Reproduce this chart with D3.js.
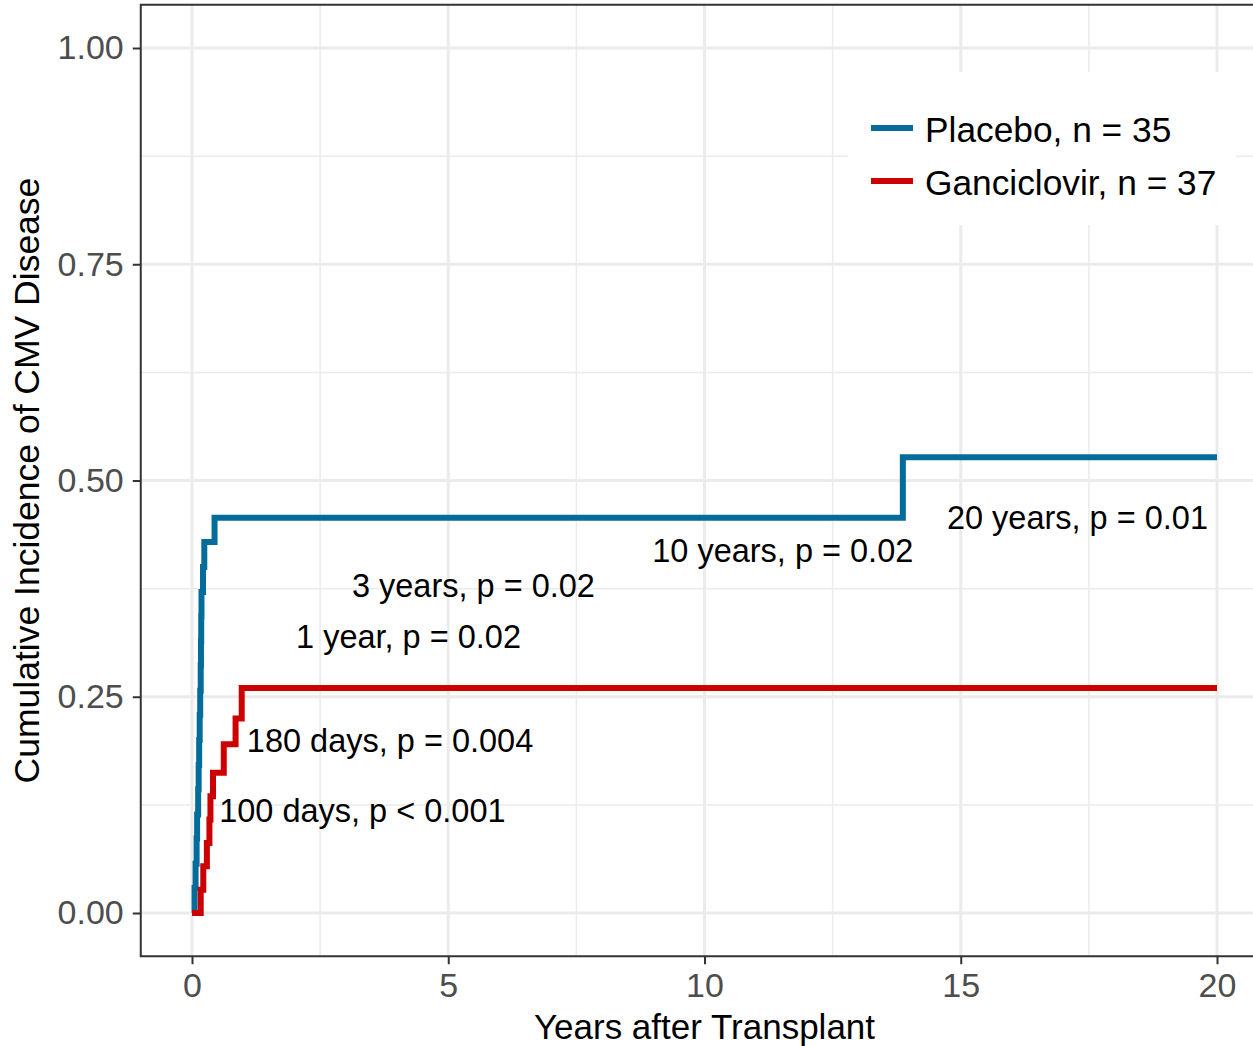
<!DOCTYPE html>
<html>
<head>
<meta charset="utf-8">
<script src="https://cdn.jsdelivr.net/npm/d3@7"></script>
<style>
  html, body { margin: 0; padding: 0; background: #fff; }
  svg { display: block; font-family: "Liberation Sans", Arial, sans-serif; }
</style>
</head>
<body>
<svg id="chart" width="1253" height="1046"></svg>
<script>
// Cumulative incidence of CMV disease: step times (years) and estimates per arm
const placeboTimes = [0, 0.05, 0.07, 0.09, 0.10, 0.12, 0.13, 0.14, 0.15, 0.16, 0.17, 0.175, 0.18, 0.185, 0.215, 0.24, 0.44, 13.87, 20];
const placeboCif   = [0, 0.029, 0.057, 0.086, 0.114, 0.143, 0.171, 0.200, 0.229, 0.257, 0.286, 0.314, 0.343, 0.371, 0.400, 0.429, 0.457, 0.527, 0.527];

const gancicTimes  = [0, 0.17, 0.22, 0.29, 0.34, 0.36, 0.41, 0.62, 0.85, 0.97, 20];
const gancicCif    = [0, 0.027, 0.054, 0.081, 0.108, 0.135, 0.162, 0.195, 0.225, 0.260, 0.260];

const seriesNames  = ["Placebo, n = 35", "Ganciclovir, n = 37"];
const seriesColors = ["#046C9A", "#CC0000"];

const xTicks = [0, 5, 10, 15, 20];
const yTicks = [0, 0.25, 0.5, 0.75, 1];
const xMinor = [2.5, 7.5, 12.5, 17.5];
const yMinor = [0.125, 0.375, 0.625, 0.875];

// Landmark test results: text, left edge (years), baseline (incidence)
const noteText = ["20 years, p = 0.01", "10 years, p = 0.02", "3 years, p = 0.02", "1 year, p = 0.02", "180 days, p = 0.004", "100 days, p < 0.001"];
const noteX    = [14.73, 8.98, 3.12, 2.03, 1.07, 0.53];
const noteY    = [0.444, 0.406, 0.365, 0.306, 0.186, 0.105];

const svg = d3.select("#chart");
const W = 1253, H = 1046;
svg.append("rect").attr("width", W).attr("height", H).attr("fill", "#fff");

// Scales with ggplot-style 5% expansion
const x = d3.scaleLinear().domain([-1, 21]).range([140.75, 1268.25]);
const y = d3.scaleLinear().domain([-0.05, 1.05]).range([956.25, 4.75]);

const pL = x(-1), pR = x(21), pT = y(1.05), pB = y(-0.05);

svg.append("clipPath").attr("id", "panel")
  .append("rect").attr("x", pL).attr("y", pT).attr("width", pR - pL).attr("height", pB - pT);

const panel = svg.append("g").attr("clip-path", "url(#panel)");

// Grid
panel.selectAll("line.ymin").data(yMinor).join("line")
  .attr("x1", pL).attr("x2", pR).attr("y1", d => y(d)).attr("y2", d => y(d))
  .attr("stroke", "#ebebeb").attr("stroke-width", 1.5);
panel.selectAll("line.xmin").data(xMinor).join("line")
  .attr("y1", pT).attr("y2", pB).attr("x1", d => x(d)).attr("x2", d => x(d))
  .attr("stroke", "#ebebeb").attr("stroke-width", 1.5);
panel.selectAll("line.ymaj").data(yTicks).join("line")
  .attr("x1", pL).attr("x2", pR).attr("y1", d => y(d)).attr("y2", d => y(d))
  .attr("stroke", "#ebebeb").attr("stroke-width", 3);
panel.selectAll("line.xmaj").data(xTicks).join("line")
  .attr("y1", pT).attr("y2", pB).attr("x1", d => x(d)).attr("x2", d => x(d))
  .attr("stroke", "#ebebeb").attr("stroke-width", 3);

// Step curves
const series = [
  placeboTimes.map((t, i) => [t, placeboCif[i]]),
  gancicTimes.map((t, i) => [t, gancicCif[i]])
];
const line = d3.line().x(d => x(d[0])).y(d => y(d[1])).curve(d3.curveStepAfter);
// draw placebo first so the ganciclovir arm sits over it along the baseline
[0, 1].forEach(k => {
  panel.append("path").datum(series[k])
    .attr("d", line)
    .attr("fill", "none")
    .attr("stroke", seriesColors[k])
    .attr("stroke-width", 6)
    .attr("stroke-linejoin", "miter");
});

// Annotations
panel.selectAll("text.note").data(noteText).join("text")
  .attr("x", (d, i) => x(noteX[i]))
  .attr("y", (d, i) => y(noteY[i]))
  .attr("font-size", 32.5)
  .attr("fill", "#000")
  .text(d => d);

// Legend
const lg = svg.append("g");
lg.append("rect").attr("x", 848).attr("y", 72).attr("width", 388).attr("height", 153).attr("fill", "#fff");
seriesNames.forEach((name, i) => {
  const cy = 128 + i * 53;
  lg.append("line").attr("x1", 871).attr("x2", 913).attr("y1", cy).attr("y2", cy)
    .attr("stroke", seriesColors[i]).attr("stroke-width", 6);
  lg.append("text").attr("x", 925).attr("y", cy + 14).attr("font-size", 35.3).attr("fill", "#000").text(name);
});

// Panel border
svg.append("rect").attr("x", pL).attr("y", pT).attr("width", pR - pL).attr("height", pB - pT)
  .attr("fill", "none").attr("stroke", "#333").attr("stroke-width", 2);

// Axes
const yAxis = svg.append("g").attr("transform", `translate(${pL},0)`)
  .call(d3.axisLeft(y).tickValues(yTicks).tickFormat(d3.format(".2f")).tickSize(8).tickPadding(9));
const xAxis = svg.append("g").attr("transform", `translate(0,${pB})`)
  .call(d3.axisBottom(x).tickValues(xTicks).tickFormat(d3.format("d")).tickSize(8).tickPadding(9));
[yAxis, xAxis].forEach(a => {
  a.select(".domain").remove();
  a.selectAll(".tick line").attr("stroke", "#333").attr("stroke-width", 2);
  a.selectAll(".tick text").attr("fill", "#4d4d4d").attr("font-size", 34)
    .attr("font-family", "\"Liberation Sans\", Arial, sans-serif");
});

// Axis titles
svg.append("text").attr("x", (x(0) + x(20)) / 2).attr("y", 1039)
  .attr("text-anchor", "middle").attr("font-size", 35).attr("fill", "#000")
  .text("Years after Transplant");
svg.append("text")
  .attr("transform", `translate(39,${(pT + pB) / 2}) rotate(-90)`)
  .attr("text-anchor", "middle").attr("font-size", 35.5).attr("fill", "#000")
  .text("Cumulative Incidence of CMV Disease");
</script>
</body>
</html>
